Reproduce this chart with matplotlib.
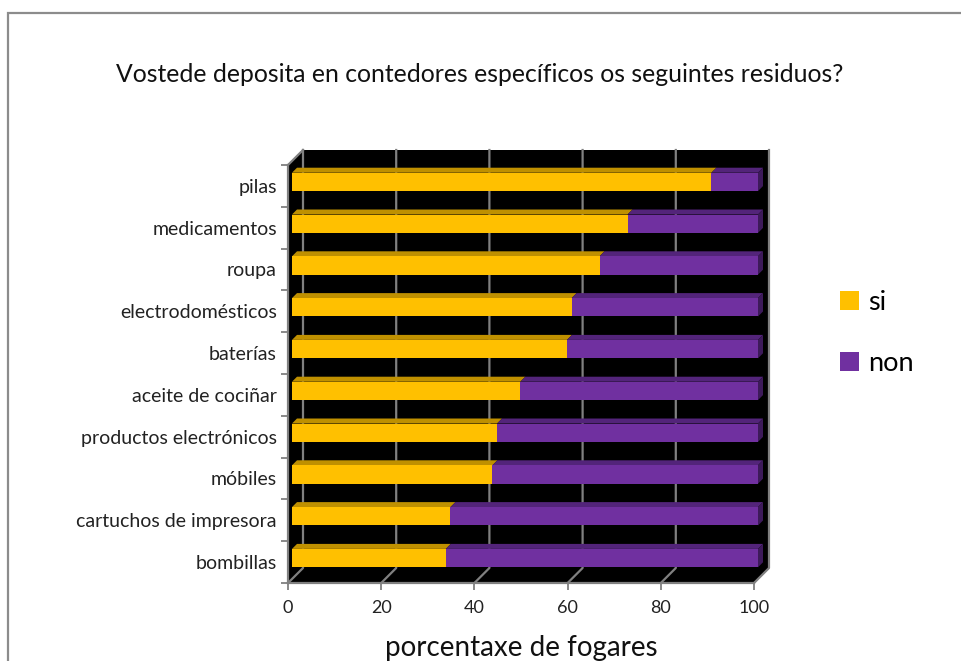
import numpy as np
import matplotlib.pyplot as plt
from matplotlib.patches import Polygon, Patch, Rectangle
from matplotlib.lines import Line2D
from matplotlib.transforms import offset_copy

plt.rcParams['font.family'] = ['Lato', 'DejaVu Sans']

# data (percent of households), bottom to top
categories = ["bombillas", "cartuchos de impresora", "móbiles", "productos electrónicos",
              "aceite de cociñar", "baterías", "electrodomésticos", "roupa",
              "medicamentos", "pilas"]
si = [33, 34, 43, 44, 49, 59, 60, 66, 72, 90]
non = [100 - v for v in si]
series_names = ["si", "non"]
xticks = [0, 20, 40, 60, 80, 100]

yellow, yellow_top = "#FFC000", "#BF9000"
purple, purple_top, purple_side = "#7030A0", "#53247A", "#3D1A5A"
grid_c = "#808080"

W, H = 961, 661
fig = plt.figure(figsize=(W / 100, H / 100), dpi=100)

# front plane of the 3d box in pixels
left_px, right_px, bot_px, top_px = 288, 754, 583, 165
ax = fig.add_axes([left_px / W, 1 - bot_px / H, (right_px - left_px) / W, (bot_px - top_px) / H])
ax.set_xlim(0, 100)
ax.set_ylim(-0.5, len(categories) - 0.5)

kx = 100 / (right_px - left_px)
ky = len(categories) / (bot_px - top_px)
DEPTH = 15       # wall depth, px
BAR_D0, BAR_D1 = 4, 9   # bar front / back depth, px
bar_h = 0.44


def sh(x, y, d):
    return (x + d * kx, y + d * ky)


ymin, ymax = -0.5, len(categories) - 0.5
# black walls and floor
box = Polygon([(0, ymin), (0, ymax), sh(0, ymax, DEPTH), sh(100, ymax, DEPTH),
               sh(100, ymin, DEPTH), (100, ymin)], closed=True,
              facecolor="black", edgecolor="none", clip_on=False, zorder=0)
ax.add_patch(box)

for xv in xticks:
    p0 = (xv, ymin)
    p1 = sh(xv, ymin, DEPTH)
    p2 = sh(xv, ymax, DEPTH)
    ax.add_line(Line2D([p0[0], p1[0], p2[0]], [p0[1], p1[1], p2[1]],
                       color=grid_c, lw=1.6, clip_on=False, zorder=1))
pa = sh(0, ymax, DEPTH)
ax.add_line(Line2D([0, pa[0]], [ymax, pa[1]], color=grid_c, lw=1.6, clip_on=False, zorder=1))

# bars: front faces through barh, shifted into depth
y = np.arange(len(categories))
tr = offset_copy(ax.transData, fig=fig, x=BAR_D0, y=BAR_D0, units='dots')
ax.barh(y, si, height=bar_h, color=yellow, transform=tr, zorder=3, clip_on=False)
ax.barh(y, non, left=si, height=bar_h, color=purple, transform=tr, zorder=3, clip_on=False)

# top and side faces
for i in range(len(categories)):
    yt = y[i] + bar_h / 2
    yb = y[i] - bar_h / 2
    segs = [(0, si[i], yellow_top), (si[i], si[i] + non[i], purple_top)]
    for x0, x1, c in segs:
        top = Polygon([sh(x0, yt, BAR_D0), sh(x0, yt, BAR_D1), sh(x1, yt, BAR_D1), sh(x1, yt, BAR_D0)],
                      facecolor=c, edgecolor="none", clip_on=False, zorder=2)
        ax.add_patch(top)
    xe = si[i] + non[i]
    side = Polygon([sh(xe, yb, BAR_D0), sh(xe, yt, BAR_D0), sh(xe, yt, BAR_D1), sh(xe, yb, BAR_D1)],
                   facecolor=purple_side, edgecolor="none", clip_on=False, zorder=2)
    ax.add_patch(side)

# axes styling
for s in ["top", "right"]:
    ax.spines[s].set_visible(False)
for s in ["left", "bottom"]:
    ax.spines[s].set_color(grid_c)
    ax.spines[s].set_linewidth(1.6)
    ax.spines[s].set_zorder(5)
ax.set_facecolor("none")

ax.set_xticks(xticks)
ax.set_xticklabels([str(v) for v in xticks], fontsize=13, color="#222222")
ax.tick_params(axis="x", length=5, width=1.3, color=grid_c, pad=7)

ax.set_yticks(y)
ax.set_yticklabels(categories, fontsize=14, color="#222222")
ax.set_yticks(np.arange(-0.5, len(categories)), minor=True)
ax.tick_params(axis="y", which="major", length=0, pad=8)
ax.tick_params(axis="y", which="minor", length=5, width=1.3, color=grid_c)

ax.set_xlabel("porcentaxe de fogares", fontsize=20, color="#111111", labelpad=14)

fig.text(480 / W, 1 - 75 / H, "Vostede deposita en contedores específicos os seguintes residuos?",
         ha="center", va="center", fontsize=17.8, color="#111111")

handles = [Patch(facecolor=yellow, edgecolor="none"), Patch(facecolor=purple, edgecolor="none")]
fig.legend(handles, series_names, loc="center left", bbox_to_anchor=(840 / W, 1 - 333 / H),
           frameon=False, fontsize=19.5, handlelength=0.7, handleheight=0.7,
           handletextpad=0.35, labelspacing=1.33, borderpad=0, borderaxespad=0)

# chart area border
fig.patches.append(Rectangle((8 / W, -0.1), 1.2, 1.1 - 13 / H, transform=fig.transFigure,
                             fill=False, edgecolor="#8C8C8C", lw=1.6))

fig.savefig("out.png", dpi=100)
